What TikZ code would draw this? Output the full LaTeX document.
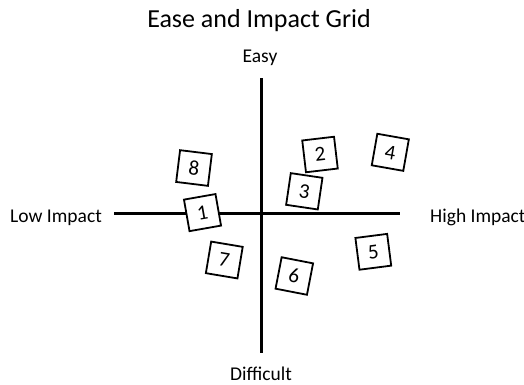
\documentclass[tikz,border=0pt]{standalone}
\usepackage{fontspec}
\setmainfont{Carlito}
\begin{document}
\begin{tikzpicture}[x=1pt,y=-1pt,
  axis/.style={line width=3pt},
  numbox/.style={draw, fill=white, line width=1.8pt, minimum size=32pt, inner sep=0pt, font=\fontsize{21}{23}\selectfont},
  lbl/.style={inner sep=0pt, font=\fontsize{19.5}{22}\selectfont},
  ttl/.style={inner sep=0pt, font=\fontsize{26}{29}\selectfont}]
\useasboundingbox (0,0) rectangle (524,384);
\node[ttl, anchor=base] (title) at (259,27) {Ease and Impact Grid};
\node[lbl, anchor=base] (easy) at (260,62.5) {Easy};
\node[lbl, anchor=base] (diff) at (261,380.5) {Difficult};
\node[lbl, anchor=base east] (low) at (102,222) {Low Impact};
\node[lbl, anchor=base west] (high) at (430,222) {High Impact};
\coordinate (L) at (114,213);
\coordinate (R) at (400,213);
\coordinate (T) at (261.5,78);
\coordinate (B) at (261.5,353);
\draw[axis] (L) -- (R);
\draw[axis] (T) -- (B);
\node[numbox, rotate=-7] (b8) at (194,168) {8};
\node[numbox, rotate=10] (b1) at (202.5,212.6) {1};
\node[numbox, rotate=-9.5] (b7) at (224.3,260) {7};
\node[numbox, rotate=-11] (b6) at (294.3,276) {6};
\node[numbox, rotate=-8.4] (b3) at (304.3,191.3) {3};
\node[numbox, rotate=6.7] (b2) at (320,154.5) {2};
\node[numbox, rotate=-10] (b4) at (390.3,152.3) {4};
\node[numbox, rotate=7.3] (b5) at (373.3,251.8) {5};
\end{tikzpicture}
\end{document}
